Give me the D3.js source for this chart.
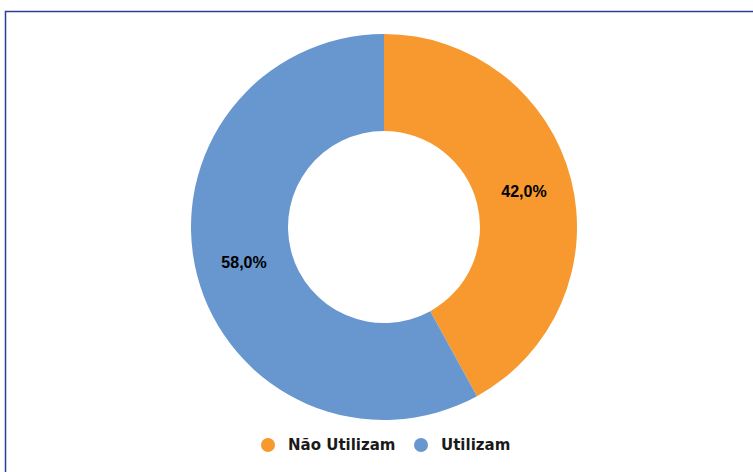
<!DOCTYPE html>
<html>
<head>
<meta charset="utf-8">
<script src="https://cdn.jsdelivr.net/npm/d3@7"></script>
<style>
  body { margin: 0; background: #fff; }
  svg { display: block; }
</style>
</head>
<body>
<svg id="chart" width="753" height="472"></svg>
<script>
const categories = ["Não Utilizam", "Utilizam"];
const values = [42.0, 58.0];
const colors = ["#F7992E", "#6897CF"];

const svg = d3.select("#chart");
const width = 753, height = 472;

// frame
svg.append("path")
  .attr("d", `M5.5,${height} V11.5 H${width}`)
  .style("fill", "none")
  .style("stroke", "#2B3E9A")
  .style("stroke-width", 1.5);

const cx = 384, cy = 227;
const outerR = 193, innerR = 96;

const color = d3.scaleOrdinal().domain(categories).range(colors);

const pie = d3.pie().sort(null).value((d, i) => values[i]);
const arcs = pie(categories);

const arc = d3.arc().innerRadius(innerR).outerRadius(outerR);

const g = svg.append("g").attr("transform", `translate(${cx}, ${cy})`);

g.selectAll(".slice")
  .data(arcs)
  .enter()
  .append("path")
  .attr("class", "slice")
  .attr("d", arc)
  .style("fill", (d) => color(d.data))
  .style("stroke", "none");

g.selectAll(".label")
  .data(arcs)
  .enter()
  .append("text")
  .attr("class", "label")
  .attr("transform", (d) => `translate(${arc.centroid(d)})`)
  .attr("text-anchor", "middle")
  .attr("dominant-baseline", "central")
  .style("font-family", "Liberation Sans, Arial, sans-serif")
  .style("font-size", "16px")
  .style("font-weight", "bold")
  .style("fill", "#000")
  .text((d) => d.value.toFixed(1).replace(".", ",") + "%");

// legend
const legendX = [268, 421];
const legend = svg.selectAll(".legend")
  .data(categories)
  .enter()
  .append("g")
  .attr("class", "legend")
  .attr("transform", (d, i) => `translate(${legendX[i]}, 445)`);

legend.append("circle")
  .attr("r", 7)
  .style("fill", (d) => color(d));

legend.append("text")
  .attr("x", 20)
  .attr("dominant-baseline", "central")
  .style("font-family", "DejaVu Sans, sans-serif")
  .style("font-size", "15px")
  .style("font-weight", "bold")
  .style("fill", "#1a1a1a")
  .text((d) => d);
</script>
</body>
</html>
